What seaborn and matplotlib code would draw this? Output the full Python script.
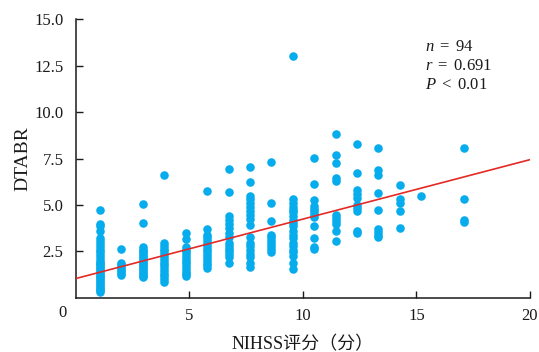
import pandas as pd
import numpy as np

import matplotlib
matplotlib.use("Agg")
import matplotlib.pyplot as plt
import seaborn as sns

# NIHSS score columns and the DTABR values
col_x = [1.05, 2.0, 2.96, 3.9, 4.84, 5.77, 6.73, 7.66, 8.6, 9.55,
         10.5, 11.44, 12.38, 13.32, 14.27, 15.2, 17.1]
col_y = [
    [4.75, 4.0, 3.85, 3.6, 3.2, 3.05, 2.9, 2.75, 2.6, 2.45, 2.3, 2.15, 2.0, 1.9, 1.8,
     1.7, 1.6, 1.5, 1.4, 1.3, 1.2, 1.1, 1.0, 0.9, 0.8, 0.7, 0.6, 0.5, 0.4, 0.3],
    [2.65, 1.85, 1.75, 1.65, 1.55, 1.45, 1.35, 1.25],
    [5.05, 4.05, 2.75, 2.6, 2.5, 2.4, 2.3, 2.2, 2.1, 2.0, 1.9, 1.8, 1.7, 1.6, 1.5,
     1.4, 1.3, 1.2, 1.1],
    [6.6, 2.95, 2.8, 2.65, 2.5, 2.35, 2.2, 2.05, 1.9, 1.75, 1.6, 1.45, 1.3, 1.15, 1.0, 0.85],
    [3.5, 3.15, 2.75, 2.6, 2.45, 2.3, 2.15, 2.0, 1.85, 1.7, 1.55, 1.4, 1.3, 1.2],
    [5.75, 3.7, 3.4, 3.25, 3.1, 2.95, 2.8, 2.65, 2.5, 2.35, 2.2, 2.05, 1.9, 1.75, 1.6],
    [6.95, 5.7, 4.4, 4.2, 4.0, 3.75, 3.5, 3.3, 2.95, 2.8, 2.65, 2.5, 2.35, 2.2, 1.9],
    [7.05, 6.25, 5.5, 5.3, 5.1, 4.9, 4.7, 4.45, 4.25, 3.9, 3.3, 2.95, 2.8, 2.55, 2.35,
     2.2, 1.9, 1.65],
    [7.3, 5.1, 4.15, 3.4, 3.25, 3.1, 2.95, 2.8, 2.65, 2.45],
    [13.0, 5.3, 5.1, 4.9, 4.75, 4.6, 4.4, 4.2, 4.05, 3.85, 3.6, 3.4, 3.2, 2.95, 2.8,
     2.6, 2.45, 2.25, 1.9, 1.55],
    [7.55, 6.15, 5.25, 4.95, 4.8, 4.65, 4.5, 4.35, 3.85, 3.2, 2.75, 2.65],
    [8.85, 7.7, 7.25, 6.45, 6.3, 4.45, 4.3, 4.15, 3.95, 3.6, 3.05],
    [8.3, 6.7, 5.8, 5.6, 5.4, 5.0, 4.85, 4.7, 3.6, 3.5],
    [8.05, 6.9, 6.6, 5.65, 4.75, 3.7, 3.55, 3.4, 3.25],
    [6.1, 5.3, 5.1, 4.65, 3.75],
    [5.5],
    [8.05, 5.3, 4.2, 4.1],
]

# fitted line as drawn in the figure
fit_intercept = 1.04
fit_slope = 0.32
fit_range = [0, 20]

stats_lines = [r"$n\ =\ 94$", r"$r\ =\ 0.691$", r"$P\ <\ 0.01$"]

x_ticks = [5, 10, 15, 20]
y_ticks = [2.5, 5.0, 7.5, 10.0, 12.5, 15.0]

df = pd.DataFrame({
    "nihss": np.repeat(col_x, [len(v) for v in col_y]),
    "dtabr": np.concatenate(col_y),
})
line_df = pd.DataFrame({"x": fit_range})
line_df["y"] = fit_intercept + fit_slope * line_df["x"]

sns.set_theme(style="ticks")
plt.rcParams["font.family"] = ["Liberation Serif", "Noto Sans CJK SC"]
plt.rcParams["mathtext.fontset"] = "custom"
plt.rcParams["mathtext.rm"] = "Liberation Serif"
plt.rcParams["mathtext.it"] = "Liberation Serif:italic"

fig = plt.figure(figsize=(5.39, 3.52), dpi=100)
ax = fig.add_axes([0.141, 0.154, 0.842, 0.791])

sns.scatterplot(data=df, x="nihss", y="dtabr", ax=ax, color="#06ACEC",
                s=38, linewidth=0, alpha=1, zorder=2)
sns.lineplot(data=line_df, x="x", y="y", ax=ax, color="#E42A26",
             linewidth=1.2, zorder=3)

ax.set_xlim(0, 20)
ax.set_ylim(0, 15)
ax.set_xticks(x_ticks)
ax.set_yticks(y_ticks)
ax.set_yticklabels(["%.1f" % v for v in y_ticks])
ax.tick_params(direction="in", length=5, width=1, colors="#1a1a1a", labelsize=12)
ax.tick_params(axis="y", pad=9)
ax.tick_params(axis="x", pad=7)
for sp in ["top", "right"]:
    ax.spines[sp].set_visible(False)
for sp in ["left", "bottom"]:
    ax.spines[sp].set_color("#1a1a1a")
    ax.spines[sp].set_linewidth(1.1)

ax.set_xlabel("NIHSS评分（分）", fontsize=13, color="#1a1a1a", labelpad=9)
ax.set_ylabel("DTABR", fontsize=14, color="#1a1a1a", labelpad=2)

# shared origin label
ax.annotate("0", xy=(0, 0), xycoords="axes fraction", xytext=(-13, -15),
            textcoords="offset pixels", ha="center", va="center",
            fontsize=12, color="#1a1a1a")

for i, t in enumerate(stats_lines):
    ax.text(15.4, 13.5 - i * 1.02, t, fontsize=12, color="#1a1a1a",
            ha="left", va="center")

plt.savefig("out.png", dpi=100)
